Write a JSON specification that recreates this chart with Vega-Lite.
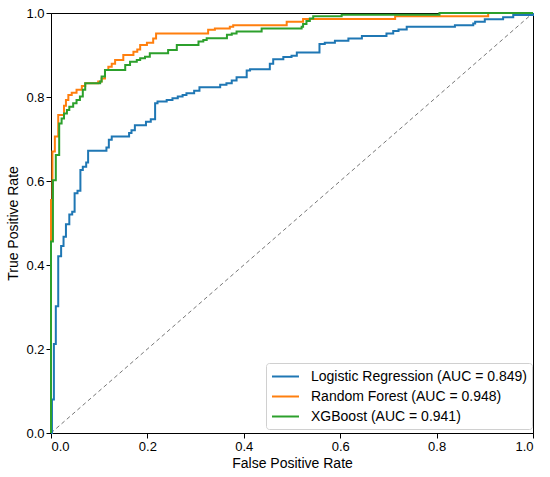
{
  "$schema": "https://vega.github.io/schema/vega-lite/v6.json",
  "width": 482,
  "height": 420,
  "autosize": {"type": "none"},
  "padding": {"left": 51, "top": 13, "right": 17, "bottom": 44},
  "background": "white",
  "datasets": {
    "diag": [{"fpr": 0, "tpr": 0}, {"fpr": 1, "tpr": 1}],
    "roc": [
      {"model": "Logistic Regression (AUC = 0.849)", "fpr": 0, "tpr": 0},
      {"model": "Logistic Regression (AUC = 0.849)", "fpr": 0.002, "tpr": 0.08},
      {"model": "Logistic Regression (AUC = 0.849)", "fpr": 0.006, "tpr": 0.212},
      {"model": "Logistic Regression (AUC = 0.849)", "fpr": 0.010, "tpr": 0.302},
      {"model": "Logistic Regression (AUC = 0.849)", "fpr": 0.015, "tpr": 0.421},
      {"model": "Logistic Regression (AUC = 0.849)", "fpr": 0.021, "tpr": 0.445},
      {"model": "Logistic Regression (AUC = 0.849)", "fpr": 0.026, "tpr": 0.467},
      {"model": "Logistic Regression (AUC = 0.849)", "fpr": 0.031, "tpr": 0.497},
      {"model": "Logistic Regression (AUC = 0.849)", "fpr": 0.038, "tpr": 0.520},
      {"model": "Logistic Regression (AUC = 0.849)", "fpr": 0.044, "tpr": 0.527},
      {"model": "Logistic Regression (AUC = 0.849)", "fpr": 0.049, "tpr": 0.571},
      {"model": "Logistic Regression (AUC = 0.849)", "fpr": 0.055, "tpr": 0.577},
      {"model": "Logistic Regression (AUC = 0.849)", "fpr": 0.061, "tpr": 0.626},
      {"model": "Logistic Regression (AUC = 0.849)", "fpr": 0.066, "tpr": 0.634},
      {"model": "Logistic Regression (AUC = 0.849)", "fpr": 0.073, "tpr": 0.644},
      {"model": "Logistic Regression (AUC = 0.849)", "fpr": 0.077, "tpr": 0.672},
      {"model": "Logistic Regression (AUC = 0.849)", "fpr": 0.115, "tpr": 0.680},
      {"model": "Logistic Regression (AUC = 0.849)", "fpr": 0.120, "tpr": 0.698},
      {"model": "Logistic Regression (AUC = 0.849)", "fpr": 0.126, "tpr": 0.706},
      {"model": "Logistic Regression (AUC = 0.849)", "fpr": 0.162, "tpr": 0.714},
      {"model": "Logistic Regression (AUC = 0.849)", "fpr": 0.167, "tpr": 0.721},
      {"model": "Logistic Regression (AUC = 0.849)", "fpr": 0.174, "tpr": 0.733},
      {"model": "Logistic Regression (AUC = 0.849)", "fpr": 0.197, "tpr": 0.741},
      {"model": "Logistic Regression (AUC = 0.849)", "fpr": 0.207, "tpr": 0.747},
      {"model": "Logistic Regression (AUC = 0.849)", "fpr": 0.216, "tpr": 0.785},
      {"model": "Logistic Regression (AUC = 0.849)", "fpr": 0.221, "tpr": 0.789},
      {"model": "Logistic Regression (AUC = 0.849)", "fpr": 0.240, "tpr": 0.793},
      {"model": "Logistic Regression (AUC = 0.849)", "fpr": 0.252, "tpr": 0.797},
      {"model": "Logistic Regression (AUC = 0.849)", "fpr": 0.263, "tpr": 0.801},
      {"model": "Logistic Regression (AUC = 0.849)", "fpr": 0.273, "tpr": 0.805},
      {"model": "Logistic Regression (AUC = 0.849)", "fpr": 0.281, "tpr": 0.809},
      {"model": "Logistic Regression (AUC = 0.849)", "fpr": 0.297, "tpr": 0.815},
      {"model": "Logistic Regression (AUC = 0.849)", "fpr": 0.308, "tpr": 0.823},
      {"model": "Logistic Regression (AUC = 0.849)", "fpr": 0.351, "tpr": 0.829},
      {"model": "Logistic Regression (AUC = 0.849)", "fpr": 0.364, "tpr": 0.833},
      {"model": "Logistic Regression (AUC = 0.849)", "fpr": 0.375, "tpr": 0.839},
      {"model": "Logistic Regression (AUC = 0.849)", "fpr": 0.385, "tpr": 0.847},
      {"model": "Logistic Regression (AUC = 0.849)", "fpr": 0.406, "tpr": 0.863},
      {"model": "Logistic Regression (AUC = 0.849)", "fpr": 0.413, "tpr": 0.866},
      {"model": "Logistic Regression (AUC = 0.849)", "fpr": 0.454, "tpr": 0.879},
      {"model": "Logistic Regression (AUC = 0.849)", "fpr": 0.461, "tpr": 0.890},
      {"model": "Logistic Regression (AUC = 0.849)", "fpr": 0.482, "tpr": 0.895},
      {"model": "Logistic Regression (AUC = 0.849)", "fpr": 0.499, "tpr": 0.898},
      {"model": "Logistic Regression (AUC = 0.849)", "fpr": 0.510, "tpr": 0.906},
      {"model": "Logistic Regression (AUC = 0.849)", "fpr": 0.557, "tpr": 0.926},
      {"model": "Logistic Regression (AUC = 0.849)", "fpr": 0.568, "tpr": 0.929},
      {"model": "Logistic Regression (AUC = 0.849)", "fpr": 0.589, "tpr": 0.934},
      {"model": "Logistic Regression (AUC = 0.849)", "fpr": 0.617, "tpr": 0.939},
      {"model": "Logistic Regression (AUC = 0.849)", "fpr": 0.645, "tpr": 0.945},
      {"model": "Logistic Regression (AUC = 0.849)", "fpr": 0.696, "tpr": 0.951},
      {"model": "Logistic Regression (AUC = 0.849)", "fpr": 0.710, "tpr": 0.957},
      {"model": "Logistic Regression (AUC = 0.849)", "fpr": 0.721, "tpr": 0.961},
      {"model": "Logistic Regression (AUC = 0.849)", "fpr": 0.738, "tpr": 0.967},
      {"model": "Logistic Regression (AUC = 0.849)", "fpr": 0.838, "tpr": 0.971},
      {"model": "Logistic Regression (AUC = 0.849)", "fpr": 0.876, "tpr": 0.975},
      {"model": "Logistic Regression (AUC = 0.849)", "fpr": 0.880, "tpr": 0.979},
      {"model": "Logistic Regression (AUC = 0.849)", "fpr": 0.900, "tpr": 0.985},
      {"model": "Logistic Regression (AUC = 0.849)", "fpr": 0.938, "tpr": 0.990},
      {"model": "Logistic Regression (AUC = 0.849)", "fpr": 0.959, "tpr": 0.995},
      {"model": "Logistic Regression (AUC = 0.849)", "fpr": 1.0, "tpr": 1.0},
      {"model": "Random Forest (AUC = 0.948)", "fpr": 0, "tpr": 0},
      {"model": "Random Forest (AUC = 0.948)", "fpr": 0, "tpr": 0.555},
      {"model": "Random Forest (AUC = 0.948)", "fpr": 0.003, "tpr": 0.670},
      {"model": "Random Forest (AUC = 0.948)", "fpr": 0.008, "tpr": 0.706},
      {"model": "Random Forest (AUC = 0.948)", "fpr": 0.015, "tpr": 0.757},
      {"model": "Random Forest (AUC = 0.948)", "fpr": 0.027, "tpr": 0.779},
      {"model": "Random Forest (AUC = 0.948)", "fpr": 0.031, "tpr": 0.793},
      {"model": "Random Forest (AUC = 0.948)", "fpr": 0.036, "tpr": 0.805},
      {"model": "Random Forest (AUC = 0.948)", "fpr": 0.043, "tpr": 0.810},
      {"model": "Random Forest (AUC = 0.948)", "fpr": 0.053, "tpr": 0.817},
      {"model": "Random Forest (AUC = 0.948)", "fpr": 0.064, "tpr": 0.826},
      {"model": "Random Forest (AUC = 0.948)", "fpr": 0.071, "tpr": 0.833},
      {"model": "Random Forest (AUC = 0.948)", "fpr": 0.098, "tpr": 0.837},
      {"model": "Random Forest (AUC = 0.948)", "fpr": 0.105, "tpr": 0.844},
      {"model": "Random Forest (AUC = 0.948)", "fpr": 0.112, "tpr": 0.864},
      {"model": "Random Forest (AUC = 0.948)", "fpr": 0.119, "tpr": 0.872},
      {"model": "Random Forest (AUC = 0.948)", "fpr": 0.126, "tpr": 0.879},
      {"model": "Random Forest (AUC = 0.948)", "fpr": 0.133, "tpr": 0.888},
      {"model": "Random Forest (AUC = 0.948)", "fpr": 0.150, "tpr": 0.900},
      {"model": "Random Forest (AUC = 0.948)", "fpr": 0.171, "tpr": 0.908},
      {"model": "Random Forest (AUC = 0.948)", "fpr": 0.179, "tpr": 0.913},
      {"model": "Random Forest (AUC = 0.948)", "fpr": 0.185, "tpr": 0.924},
      {"model": "Random Forest (AUC = 0.948)", "fpr": 0.199, "tpr": 0.929},
      {"model": "Random Forest (AUC = 0.948)", "fpr": 0.212, "tpr": 0.939},
      {"model": "Random Forest (AUC = 0.948)", "fpr": 0.218, "tpr": 0.951},
      {"model": "Random Forest (AUC = 0.948)", "fpr": 0.326, "tpr": 0.960},
      {"model": "Random Forest (AUC = 0.948)", "fpr": 0.340, "tpr": 0.963},
      {"model": "Random Forest (AUC = 0.948)", "fpr": 0.371, "tpr": 0.967},
      {"model": "Random Forest (AUC = 0.948)", "fpr": 0.378, "tpr": 0.971},
      {"model": "Random Forest (AUC = 0.948)", "fpr": 0.489, "tpr": 0.979},
      {"model": "Random Forest (AUC = 0.948)", "fpr": 0.523, "tpr": 0.986},
      {"model": "Random Forest (AUC = 0.948)", "fpr": 0.714, "tpr": 0.992},
      {"model": "Random Forest (AUC = 0.948)", "fpr": 0.907, "tpr": 1.0},
      {"model": "Random Forest (AUC = 0.948)", "fpr": 1.0, "tpr": 1.0},
      {"model": "XGBoost (AUC = 0.941)", "fpr": 0, "tpr": 0},
      {"model": "XGBoost (AUC = 0.941)", "fpr": 0, "tpr": 0.456},
      {"model": "XGBoost (AUC = 0.941)", "fpr": 0.004, "tpr": 0.602},
      {"model": "XGBoost (AUC = 0.941)", "fpr": 0.010, "tpr": 0.662},
      {"model": "XGBoost (AUC = 0.941)", "fpr": 0.017, "tpr": 0.737},
      {"model": "XGBoost (AUC = 0.941)", "fpr": 0.022, "tpr": 0.749},
      {"model": "XGBoost (AUC = 0.941)", "fpr": 0.027, "tpr": 0.761},
      {"model": "XGBoost (AUC = 0.941)", "fpr": 0.033, "tpr": 0.769},
      {"model": "XGBoost (AUC = 0.941)", "fpr": 0.038, "tpr": 0.777},
      {"model": "XGBoost (AUC = 0.941)", "fpr": 0.046, "tpr": 0.785},
      {"model": "XGBoost (AUC = 0.941)", "fpr": 0.053, "tpr": 0.793},
      {"model": "XGBoost (AUC = 0.941)", "fpr": 0.060, "tpr": 0.801},
      {"model": "XGBoost (AUC = 0.941)", "fpr": 0.066, "tpr": 0.817},
      {"model": "XGBoost (AUC = 0.941)", "fpr": 0.071, "tpr": 0.833},
      {"model": "XGBoost (AUC = 0.941)", "fpr": 0.102, "tpr": 0.837},
      {"model": "XGBoost (AUC = 0.941)", "fpr": 0.105, "tpr": 0.849},
      {"model": "XGBoost (AUC = 0.941)", "fpr": 0.112, "tpr": 0.864},
      {"model": "XGBoost (AUC = 0.941)", "fpr": 0.154, "tpr": 0.876},
      {"model": "XGBoost (AUC = 0.941)", "fpr": 0.164, "tpr": 0.884},
      {"model": "XGBoost (AUC = 0.941)", "fpr": 0.178, "tpr": 0.888},
      {"model": "XGBoost (AUC = 0.941)", "fpr": 0.185, "tpr": 0.892},
      {"model": "XGBoost (AUC = 0.941)", "fpr": 0.195, "tpr": 0.896},
      {"model": "XGBoost (AUC = 0.941)", "fpr": 0.205, "tpr": 0.904},
      {"model": "XGBoost (AUC = 0.941)", "fpr": 0.243, "tpr": 0.912},
      {"model": "XGBoost (AUC = 0.941)", "fpr": 0.261, "tpr": 0.924},
      {"model": "XGBoost (AUC = 0.941)", "fpr": 0.306, "tpr": 0.932},
      {"model": "XGBoost (AUC = 0.941)", "fpr": 0.316, "tpr": 0.936},
      {"model": "XGBoost (AUC = 0.941)", "fpr": 0.323, "tpr": 0.940},
      {"model": "XGBoost (AUC = 0.941)", "fpr": 0.365, "tpr": 0.948},
      {"model": "XGBoost (AUC = 0.941)", "fpr": 0.375, "tpr": 0.951},
      {"model": "XGBoost (AUC = 0.941)", "fpr": 0.385, "tpr": 0.956},
      {"model": "XGBoost (AUC = 0.941)", "fpr": 0.437, "tpr": 0.963},
      {"model": "XGBoost (AUC = 0.941)", "fpr": 0.520, "tpr": 0.967},
      {"model": "XGBoost (AUC = 0.941)", "fpr": 0.523, "tpr": 0.974},
      {"model": "XGBoost (AUC = 0.941)", "fpr": 0.530, "tpr": 0.981},
      {"model": "XGBoost (AUC = 0.941)", "fpr": 0.537, "tpr": 0.987},
      {"model": "XGBoost (AUC = 0.941)", "fpr": 0.544, "tpr": 0.992},
      {"model": "XGBoost (AUC = 0.941)", "fpr": 0.603, "tpr": 0.996},
      {"model": "XGBoost (AUC = 0.941)", "fpr": 0.806, "tpr": 1.0},
      {"model": "XGBoost (AUC = 0.941)", "fpr": 1.0, "tpr": 1.0}
    ]
  },
  "layer": [
    {
      "data": {"name": "diag"},
      "mark": {"type": "line", "color": "#777777", "strokeWidth": 1, "strokeDash": [4, 3]},
      "encoding": {
        "x": {"field": "fpr", "type": "quantitative"},
        "y": {"field": "tpr", "type": "quantitative"}
      }
    },
    {
      "data": {"name": "roc"},
      "mark": {"type": "line", "strokeWidth": 2, "interpolate": "step-after"},
      "encoding": {
        "x": {
          "field": "fpr",
          "type": "quantitative",
          "title": "False Positive Rate",
          "scale": {"domain": [0, 1], "nice": false, "zero": false},
          "axis": {"values": [0, 0.2, 0.4, 0.6, 0.8, 1.0], "format": ".1f", "titlePadding": 3}
        },
        "y": {
          "field": "tpr",
          "type": "quantitative",
          "title": "True Positive Rate",
          "scale": {"domain": [0, 1], "nice": false, "zero": false},
          "axis": {"values": [0, 0.2, 0.4, 0.6, 0.8, 1.0], "format": ".1f", "titlePadding": 5}
        },
        "color": {
          "field": "model",
          "type": "nominal",
          "scale": {"range": ["#1f77b4", "#ff7f0e", "#2ca02c"]},
          "legend": {
            "title": null,
            "orient": "none",
            "legendX": 215,
            "legendY": 350,
            "symbolType": "M-1,0H2.6",
            "symbolSize": 225,
            "symbolStrokeWidth": 2,
            "labelOffset": 23,
            "labelLimit": 400,
            "labelFontSize": 14,
            "rowPadding": 4,
            "padding": 5,
            "strokeColor": "#d0d0d0",
            "fillColor": "white",
            "cornerRadius": 3
          }
        },
        "order": {"value": null}
      }
    }
  ],
  "config": {
    "font": "Liberation Sans",
    "view": {"stroke": "black", "strokeWidth": 1},
    "axis": {
      "grid": false,
      "domainColor": "black",
      "tickColor": "black",
      "tickSize": 5,
      "labelFontSize": 13,
      "titleFontSize": 14,
      "labelColor": "black",
      "titleColor": "black",
      "titleFontWeight": "normal",
      "labelFont": "Liberation Sans",
      "titleFont": "Liberation Sans"
    },
    "legend": {"labelColor": "black", "labelFont": "Liberation Sans"}
  }
}
